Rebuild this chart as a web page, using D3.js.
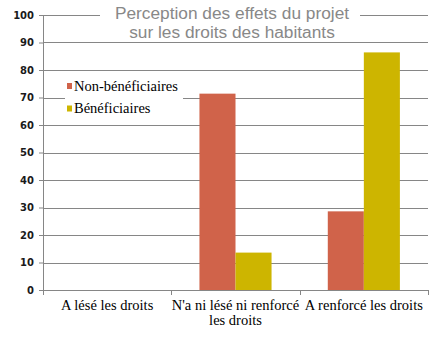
<!DOCTYPE html>
<html>
<head>
<meta charset="utf-8">
<script src="https://cdn.jsdelivr.net/npm/d3@7"></script>
<style>
  html, body { margin: 0; padding: 0; background: #fff; }
  svg { display: block; }
</style>
</head>
<body>
<svg id="chart" width="436" height="338"></svg>
<script>
// Data
const categories = [
  ["A lésé les droits"],
  ["N'a ni lésé ni renforcé", "les droits"],
  ["A renforcé les droits"]
];
const seriesNames = ["Non-bénéficiaires", "Bénéficiaires"];
const nonBeneficiaires = [0, 71.4, 28.6];
const beneficiaires = [0, 13.6, 86.4];
const yTicks = [0, 10, 20, 30, 40, 50, 60, 70, 80, 90, 100];
const titleLines = ["Perception des effets du projet", "sur les droits des habitants"];

const colors = ["#D0634A", "#CDB500"];
const axisColor = "#868686";

const svg = d3.select("#chart");
const margin = { left: 43, right: 8, top: 15, bottom: 48 };
const W = 436, H = 338;
const plotW = W - margin.left - margin.right;
const plotH = H - margin.top - margin.bottom;

const g = svg.append("g").attr("transform", `translate(${margin.left},${margin.top})`);

const x0 = d3.scaleBand().domain(d3.range(categories.length)).range([0, plotW]).paddingInner(0).paddingOuter(0);
const x1 = d3.scaleBand().domain(d3.range(seriesNames.length)).range([0, x0.bandwidth()]).paddingInner(0).paddingOuter(0.78);
const y = d3.scaleLinear().domain([0, 100]).range([plotH, 0]);

// Horizontal gridlines
g.append("g").selectAll("line").data(yTicks.filter(d => d > 0)).join("line")
  .attr("x1", 0).attr("x2", plotW)
  .attr("y1", d => Math.round(y(d)) + 0.5).attr("y2", d => Math.round(y(d)) + 0.5)
  .attr("stroke", axisColor).attr("stroke-width", 1);

// Bars
const rows = categories.map((c, i) => [nonBeneficiaires[i], beneficiaires[i]]);
const groups = g.append("g").selectAll("g").data(rows).join("g")
  .attr("transform", (d, i) => `translate(${x0(i)},0)`);
groups.selectAll("rect").data(d => d.map((v, s) => ({ v, s }))).join("rect")
  .attr("x", d => x1(d.s))
  .attr("width", x1.bandwidth())
  .attr("y", d => y(d.v))
  .attr("height", d => plotH - y(d.v))
  .attr("fill", d => colors[d.s]);

// Y axis
const yAxis = g.append("g").call(d3.axisLeft(y).tickValues(yTicks).tickSize(4).tickPadding(5));
yAxis.select(".domain").attr("stroke", axisColor).attr("d", `M0.5,${plotH}V0`);
yAxis.selectAll(".tick line").attr("stroke", axisColor);
yAxis.selectAll(".tick text")
  .attr("font-family", "DejaVu Sans, sans-serif")
  .attr("font-weight", "bold")
  .attr("font-size", 10)
  .attr("fill", "#1a1a1a");

// X axis with ticks at category boundaries
const xAxisG = g.append("g").attr("transform", `translate(0,${plotH})`);
xAxisG.append("line").attr("x1", 0).attr("x2", plotW).attr("y1", 0.5).attr("y2", 0.5).attr("stroke", axisColor);
xAxisG.selectAll("line.tk").data(d3.range(categories.length + 1)).join("line")
  .attr("class", "tk")
  .attr("x1", i => Math.round(i * x0.step()) + 0.5).attr("x2", i => Math.round(i * x0.step()) + 0.5)
  .attr("y1", 0).attr("y2", 5).attr("stroke", axisColor);
const xl = xAxisG.selectAll("text").data(categories).join("text")
  .attr("x", (d, i) => x0(i) + x0.bandwidth() / 2)
  .attr("y", 20)
  .attr("text-anchor", "middle")
  .attr("font-family", "Liberation Serif, serif")
  .attr("font-size", 14.5)
  .attr("fill", "#000");
xl.selectAll("tspan").data(d => d).join("tspan")
  .attr("x", function () { return this.parentNode.getAttribute("x"); })
  .attr("dy", (d, i) => i === 0 ? 0 : 15)
  .text(d => d);

// Title with white backing
svg.append("rect").attr("x", 100).attr("y", 3).attr("width", 260).attr("height", 38).attr("fill", "#fff");
svg.append("g").selectAll("text").data(titleLines).join("text")
  .attr("x", 232)
  .attr("y", (d, i) => 18.5 + i * 19.5)
  .attr("text-anchor", "middle")
  .attr("font-family", "Liberation Sans, Arial, sans-serif")
  .attr("font-size", 17.3)
  .attr("fill", "#888888")
  .text(d => d);

// Legend
const legend = svg.append("g");
legend.append("rect").attr("x", 65).attr("y", 76).attr("width", 118).attr("height", 42).attr("fill", "#fff");
const li = legend.selectAll("g").data(seriesNames).join("g")
  .attr("transform", (d, i) => `translate(67,${86 + i * 22.5})`);
li.append("rect").attr("x", 0).attr("y", -3).attr("width", 5).attr("height", 6).attr("fill", (d, i) => colors[i]);
li.append("text").attr("x", 7).attr("y", 4.5)
  .attr("font-family", "Liberation Serif, serif")
  .attr("font-size", 14.5)
  .attr("fill", "#000")
  .text(d => d);
</script>
</body>
</html>
